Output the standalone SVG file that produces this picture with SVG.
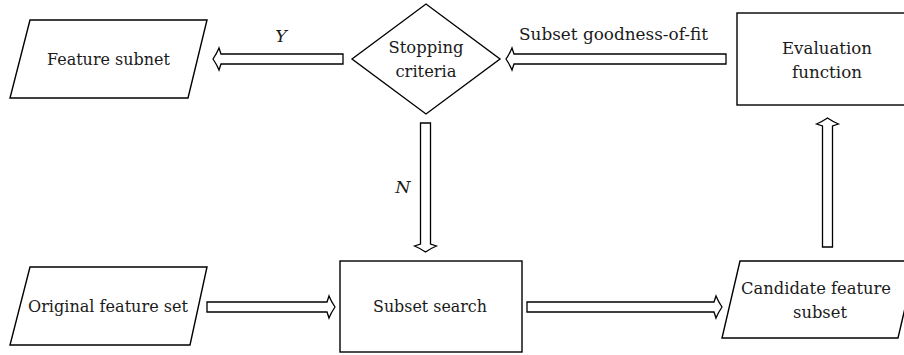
<svg xmlns="http://www.w3.org/2000/svg" width="904" height="355" viewBox="0 0 904 355">
<style>
.shape{fill:#fff;stroke:#000;stroke-width:1.4}
.arrow{fill:#fff;stroke:#000;stroke-width:1.3;stroke-linejoin:miter}
.it{font-style:italic}
</style>
<rect width="904" height="355" fill="#fff"/>
<g font-family="DejaVu Serif, Liberation Serif, serif" font-size="17.5" fill="#1a1a1a" text-anchor="middle">
<g id="connectors">
<path class="arrow" d="M213,59 Q217,53 219,48 L221,54 L343,54 L343,64 L221,64 L219,70 Q217,65 213,59 Z"/>
<path class="arrow" d="M506,59 Q510,53 512,48 L514,54 L726,54 L726,64 L514,64 L512,70 Q510,65 506,59 Z"/>
<path class="arrow" d="M425.5,252 Q419.5,248 414.5,246 L420.5,244 L420.5,123 L430.5,123 L430.5,244 L436.5,246 Q431.5,248 425.5,252 Z"/>
<path class="arrow" d="M827.5,118 Q821.5,122 816.5,124 L822.5,126 L822.5,247 L832.5,247 L832.5,126 L838.5,124 Q833.5,122 827.5,118 Z"/>
<path class="arrow" d="M335,307 Q331,301 329,296 L327,302 L207,302 L207,312 L327,312 L329,318 Q331,313 335,307 Z"/>
<path class="arrow" d="M722,307 Q718,301 716,296 L714,302 L527,302 L527,312 L714,312 L716,318 Q718,313 722,307 Z"/>
<text class="it" x="281" y="42">Y</text>
<text x="613.5" y="40" textLength="189" lengthAdjust="spacingAndGlyphs">Subset goodness-of-fit</text>
<text class="it" x="403" y="193">N</text>
</g>
<g id="feature-subnet">
<polygon class="shape" points="30,20 207,20 188,98 10,98"/>
<text x="108.5" y="65" textLength="123" lengthAdjust="spacingAndGlyphs">Feature subnet</text>
</g>
<g id="stopping-criteria">
<polygon class="shape" points="352,59 426,4 500,59 426,114"/>
<text x="426" y="53" textLength="75" lengthAdjust="spacingAndGlyphs">Stopping</text>
<text x="426" y="77" textLength="61" lengthAdjust="spacingAndGlyphs">criteria</text>
</g>
<g id="evaluation-function">
<rect class="shape" x="737" y="13" width="180" height="92"/>
<text x="827" y="54" textLength="90" lengthAdjust="spacingAndGlyphs">Evaluation</text>
<text x="827" y="78" textLength="70" lengthAdjust="spacingAndGlyphs">function</text>
</g>
<g id="original-feature-set">
<polygon class="shape" points="30,267 207,267 190,345 10,345"/>
<text x="108" y="312" textLength="160" lengthAdjust="spacingAndGlyphs">Original feature set</text>
</g>
<g id="subset-search">
<rect class="shape" x="340" y="261" width="182" height="91"/>
<text x="430" y="312" textLength="114" lengthAdjust="spacingAndGlyphs">Subset search</text>
</g>
<g id="candidate-feature-subset">
<polygon class="shape" points="740,261 916,261 898,338 722,338"/>
<text x="816" y="294" textLength="150" lengthAdjust="spacingAndGlyphs">Candidate feature</text>
<text x="820" y="318" textLength="54" lengthAdjust="spacingAndGlyphs">subset</text>
</g>
</g>
</svg>
